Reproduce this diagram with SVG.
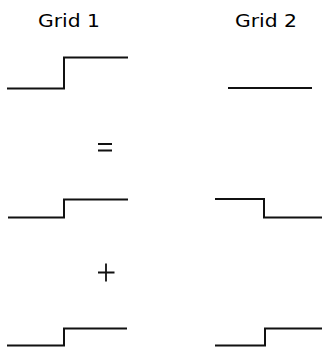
<svg xmlns="http://www.w3.org/2000/svg" width="323" height="347" viewBox="0 0 323 347">
<style>
.t{font-family:"DejaVu Sans","Liberation Sans",sans-serif;font-size:18px;fill:#000;font-weight:normal}
.w{fill:none;stroke:#111;stroke-width:2;stroke-linejoin:miter;stroke-linecap:butt}
.op{fill:none;stroke:#111;stroke-width:1.8}
</style>
<rect width="323" height="347" fill="#fff"/>
<g id="label-grid1"><text class="t" x="38" y="27" textLength="62" lengthAdjust="spacingAndGlyphs">Grid 1</text></g>
<g id="label-grid2"><text class="t" x="235" y="27" textLength="62" lengthAdjust="spacingAndGlyphs">Grid 2</text></g>
<g id="connectors">
<g id="g1-total"><path class="w" d="M7,88.5 H64 V57.5 H128"/></g>
<g id="g2-total"><path class="w" d="M228,88 H312"/></g>
<g id="equals"><path class="op" d="M98,144 H112 M98,150.5 H112"/></g>
<g id="g1-part1"><path class="w" d="M8,217.5 H64 V199.5 H128"/></g>
<g id="g2-part1"><path class="w" d="M215,199 H264 V217.5 H322"/></g>
<g id="plus"><path class="op" d="M98,272.5 H114.5 M106,263.5 V281.5"/></g>
<g id="g1-part2"><path class="w" d="M7,345.5 H64 V328.5 H127"/></g>
<g id="g2-part2"><path class="w" d="M215,345.5 H265 V328.5 H322"/></g>
</g>
</svg>
